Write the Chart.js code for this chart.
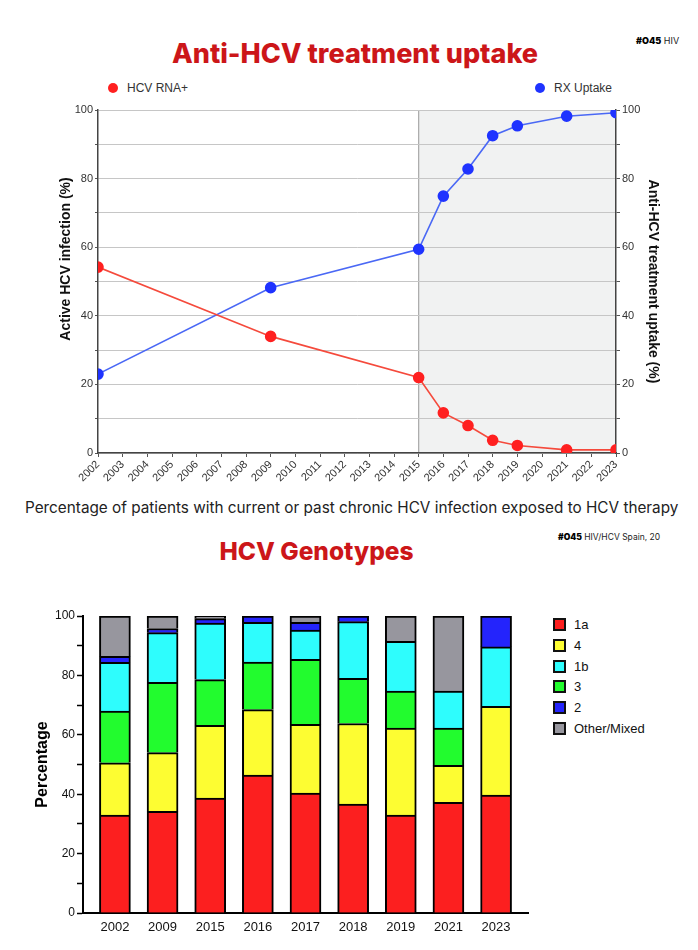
<!DOCTYPE html>
<html>
<head>
<meta charset="utf-8">
<script src="https://cdn.jsdelivr.net/npm/chart.js@4.4.1/dist/chart.umd.min.js"></script>
<style>
  body { margin: 0; background: #fff; width: 698px; height: 950px; position: relative; overflow: hidden;
         font-family: Arial, "Liberation Sans", sans-serif; }
  .abs { position: absolute; white-space: nowrap; }
  .title { font-family: Inter, "Open Sans", sans-serif; font-weight: 800; color: #cc1619; text-align: center; line-height: 1; }
  .tag { font-family: Inter, sans-serif; font-size: 9px; color: #222; line-height: 1; }
  .tag b { font-weight: 900; color: #000; }
  .lg { font-size: 12px; color: #333; line-height: 14px; }
  .dot { display: inline-block; width: 10px; height: 10px; border-radius: 50%; vertical-align: -1px; margin-right: 9px; }
  .glg { font-size: 13px; color: #111; line-height: 15px; }
  .box { display: inline-block; width: 13px; height: 13px; box-sizing: border-box; border: 2px solid #111;
         vertical-align: -2px; margin-right: 8px; }
  canvas { position: absolute; left: 0; }
</style>
</head>
<body>

<div class="abs tag" style="left:636px;top:36px"><b>#O45</b> HIV</div>
<div class="abs title" style="left:0;width:710px;top:40px;font-size:27px">Anti-HCV treatment uptake</div>

<div class="abs lg" style="left:108px;top:81px"><span class="dot" style="background:#ff2020"></span>HCV RNA+</div>
<div class="abs lg" style="left:535px;top:81px"><span class="dot" style="background:#1f33ff"></span>RX Uptake</div>

<canvas id="uptake" width="698" height="390" style="top:100px"></canvas>

<div class="abs" style="left:25px;top:498px;font-family:Inter, sans-serif;font-size:15.3px;color:#222">Percentage of patients with current or past chronic HCV infection exposed to HCV therapy</div>

<div class="abs tag" style="left:558px;top:533px;font-size:8.5px"><b>#O45</b> HIV/HCV Spain, 20</div>
<div class="abs title" style="left:0;width:633px;top:539px;font-size:24.5px">HCV Genotypes</div>

<canvas id="genotypes" width="545" height="360" style="top:590px"></canvas>
<div id="genoLegend" class="abs" style="left:553px;top:617px"></div>

<script>
// ---- Anti-HCV treatment uptake (values in %)
const years = [2002, 2009, 2015, 2016, 2017, 2018, 2019, 2021, 2023];
const hcvRna = [54.2, 34.0, 22.0, 11.7, 8.0, 3.7, 2.2, 0.9, 0.9];
const rxUptake = [23.0, 48.2, 59.4, 74.9, 82.8, 92.5, 95.4, 98.2, 99.2];
const yearRange = [2002, 2023];
const daaPeriod = [2015, 2023];

// ---- HCV genotypes (% of patients), one array per genotype
const genoYears = ['2002', '2009', '2015', '2016', '2017', '2018', '2019', '2021', '2023'];
const g1a = [33.0, 34.2, 38.7, 46.4, 40.4, 36.7, 33.0, 37.3, 39.7];
const g4 = [17.6, 19.8, 24.5, 22.1, 23.1, 27.1, 29.3, 12.4, 29.9];
const g3 = [17.4, 23.7, 15.4, 16.0, 21.9, 15.2, 12.4, 12.6, 0];
const g1b = [16.4, 16.7, 19.0, 13.4, 9.9, 19.1, 16.8, 12.4, 20.0];
const g2 = [2.0, 1.4, 1.5, 2.1, 2.6, 1.9, 0, 0, 10.4];
const gOther = [13.6, 4.2, 0.9, 0, 2.1, 0, 8.5, 25.3, 0];

Chart.defaults.font.family = 'Arial, "Liberation Sans", sans-serif';
Chart.defaults.animation = false;

// grey band behind the DAA years
const therapyBand = {
  id: 'therapyBand',
  beforeDraw(chart) {
    const { ctx, chartArea: { top, bottom }, scales: { x } } = chart;
    const x0 = x.getPixelForValue(daaPeriod[0]);
    const x1 = x.getPixelForValue(daaPeriod[1]);
    ctx.save();
    ctx.fillStyle = '#f1f2f2';
    ctx.fillRect(x0, top, x1 - x0, bottom - top);
    ctx.strokeStyle = '#a8a8a8';
    ctx.lineWidth = 1.2;
    ctx.beginPath();
    ctx.moveTo(x0, top);
    ctx.lineTo(x0, bottom);
    ctx.stroke();
    ctx.restore();
  }
};

// left axis title sits a bit above centre in the original
const sideTitle = {
  id: 'sideTitle',
  afterDraw(chart, args, opts) {
    const ctx = chart.ctx;
    ctx.save();
    ctx.translate(opts.x, opts.y);
    ctx.rotate(-Math.PI / 2);
    ctx.font = 'bold 14px Arial, "Liberation Sans", sans-serif';
    ctx.fillStyle = '#111';
    ctx.textAlign = 'center';
    ctx.textBaseline = 'middle';
    ctx.fillText(opts.text, 0, 0);
    ctx.restore();
  }
};

const pctTick = v => (v % 20 === 0 ? v : '');

new Chart(document.getElementById('uptake'), {
  type: 'line',
  data: {
    datasets: [
      {
        label: 'HCV RNA+',
        data: years.map((yr, i) => ({ x: yr, y: hcvRna[i] })),
        borderColor: '#f54a3c',
        borderWidth: 1.6,
        pointRadius: 5,
        pointBackgroundColor: '#ff2020',
        pointBorderColor: '#ff2020',
        yAxisID: 'y'
      },
      {
        label: 'RX Uptake',
        data: years.map((yr, i) => ({ x: yr, y: rxUptake[i] })),
        borderColor: '#4a68f5',
        borderWidth: 1.6,
        pointRadius: 5,
        pointBackgroundColor: '#1f33ff',
        pointBorderColor: '#1f33ff',
        yAxisID: 'y2'
      }
    ]
  },
  options: {
    responsive: false,
    layout: { padding: { top: 10 } },
    plugins: {
      legend: { display: false },
      tooltip: { enabled: false },
      sideTitle: { text: 'Active HCV infection (%)', x: 66, y: 159 }
    },
    scales: {
      x: {
        type: 'linear',
        min: yearRange[0],
        max: yearRange[1],
        ticks: {
          stepSize: 1,
          autoSkip: false,
          maxRotation: 45,
          minRotation: 45,
          color: '#333',
          font: { size: 11 },
          padding: 1,
          callback: v => String(v)
        },
        grid: { drawOnChartArea: false, tickLength: 4, color: '#555' },
        border: { color: '#444', width: 1.5 },
        afterFit: s => { s.height = 37; }
      },
      y: {
        position: 'left',
        min: 0,
        max: 100,
        ticks: { stepSize: 10, color: '#333', font: { size: 11 }, padding: 2, callback: pctTick },
        grid: { color: '#c6c6c6', tickLength: 3, tickColor: '#555' },
        border: { color: '#444', width: 1.5 },
        afterFit: s => { s.width = 98; }
      },
      y2: {
        position: 'right',
        min: 0,
        max: 100,
        ticks: { stepSize: 10, color: '#333', font: { size: 11 }, padding: 2, callback: pctTick },
        grid: { drawOnChartArea: false, tickLength: 4, color: '#555' },
        border: { color: '#444', width: 1.5 },
        title: {
          display: true,
          text: 'Anti-HCV treatment uptake (%)',
          color: '#111',
          font: { size: 14, weight: 'bold' },
          padding: { top: 37, bottom: 0 }
        },
        afterFit: s => { s.width = 82; }
      }
    }
  },
  plugins: [therapyBand, sideTitle]
});

// stacked bottom-to-top: 1a, 4, 3, 1b, 2, other
const genoSeries = [
  { label: '1a', data: g1a, color: '#fc1f1f' },
  { label: '4', data: g4, color: '#fdfd32' },
  { label: '3', data: g3, color: '#22fc2e' },
  { label: '1b', data: g1b, color: '#2efdfd' },
  { label: '2', data: g2, color: '#2424fc' },
  { label: 'Other/Mixed', data: gOther, color: '#97969e' }
];
const legendOrder = ['1a', '4', '1b', '3', '2', 'Other/Mixed'];

new Chart(document.getElementById('genotypes'), {
  type: 'bar',
  data: {
    datasets: genoSeries.map(s => ({
      label: s.label,
      data: s.data.map((v, i) => ({ x: i, y: v })),
      backgroundColor: s.color,
      borderColor: '#000',
      borderWidth: 2,
      barThickness: 31
    }))
  },
  options: {
    responsive: false,
    layout: { padding: { top: 26, right: 17 } },
    plugins: { legend: { display: false }, tooltip: { enabled: false } },
    scales: {
      x: {
        type: 'linear',
        stacked: true,
        offset: false,
        min: -0.67,
        max: genoYears.length - 0.33,
        afterBuildTicks: s => { s.ticks = genoYears.map((_, i) => ({ value: i })); },
        ticks: { color: '#111', font: { size: 13 }, padding: 7, maxRotation: 0, autoSkip: false,
                 callback: v => genoYears[v] },
        grid: { display: false, drawTicks: false, offset: false },
        border: { color: '#000', width: 2 },
        afterFit: s => { s.height = 37; }
      },
      y: {
        stacked: true,
        min: 0,
        max: 100,
        ticks: { stepSize: 10, color: '#111', font: { size: 12 }, padding: 2, callback: pctTick },
        grid: { drawOnChartArea: false, tickLength: 6, color: '#000', tickWidth: 1.5 },
        border: { color: '#000', width: 2 },
        title: {
          display: true,
          text: 'Percentage',
          color: '#000',
          font: { size: 16, weight: 'bold' },
          padding: { top: 33, bottom: 0 }
        },
        afterFit: s => { s.width = 83; }
      }
    }
  }
});

// legend in the original order
const lg = document.getElementById('genoLegend');
legendOrder.forEach((name, i) => {
  const s = genoSeries.find(d => d.label === name);
  const row = document.createElement('div');
  row.className = 'abs glg';
  row.style.top = (i * 20.8) + 'px';
  row.innerHTML = '<span class="box" style="background:' + s.color + '"></span>' + s.label;
  lg.appendChild(row);
});
</script>
</body>
</html>
